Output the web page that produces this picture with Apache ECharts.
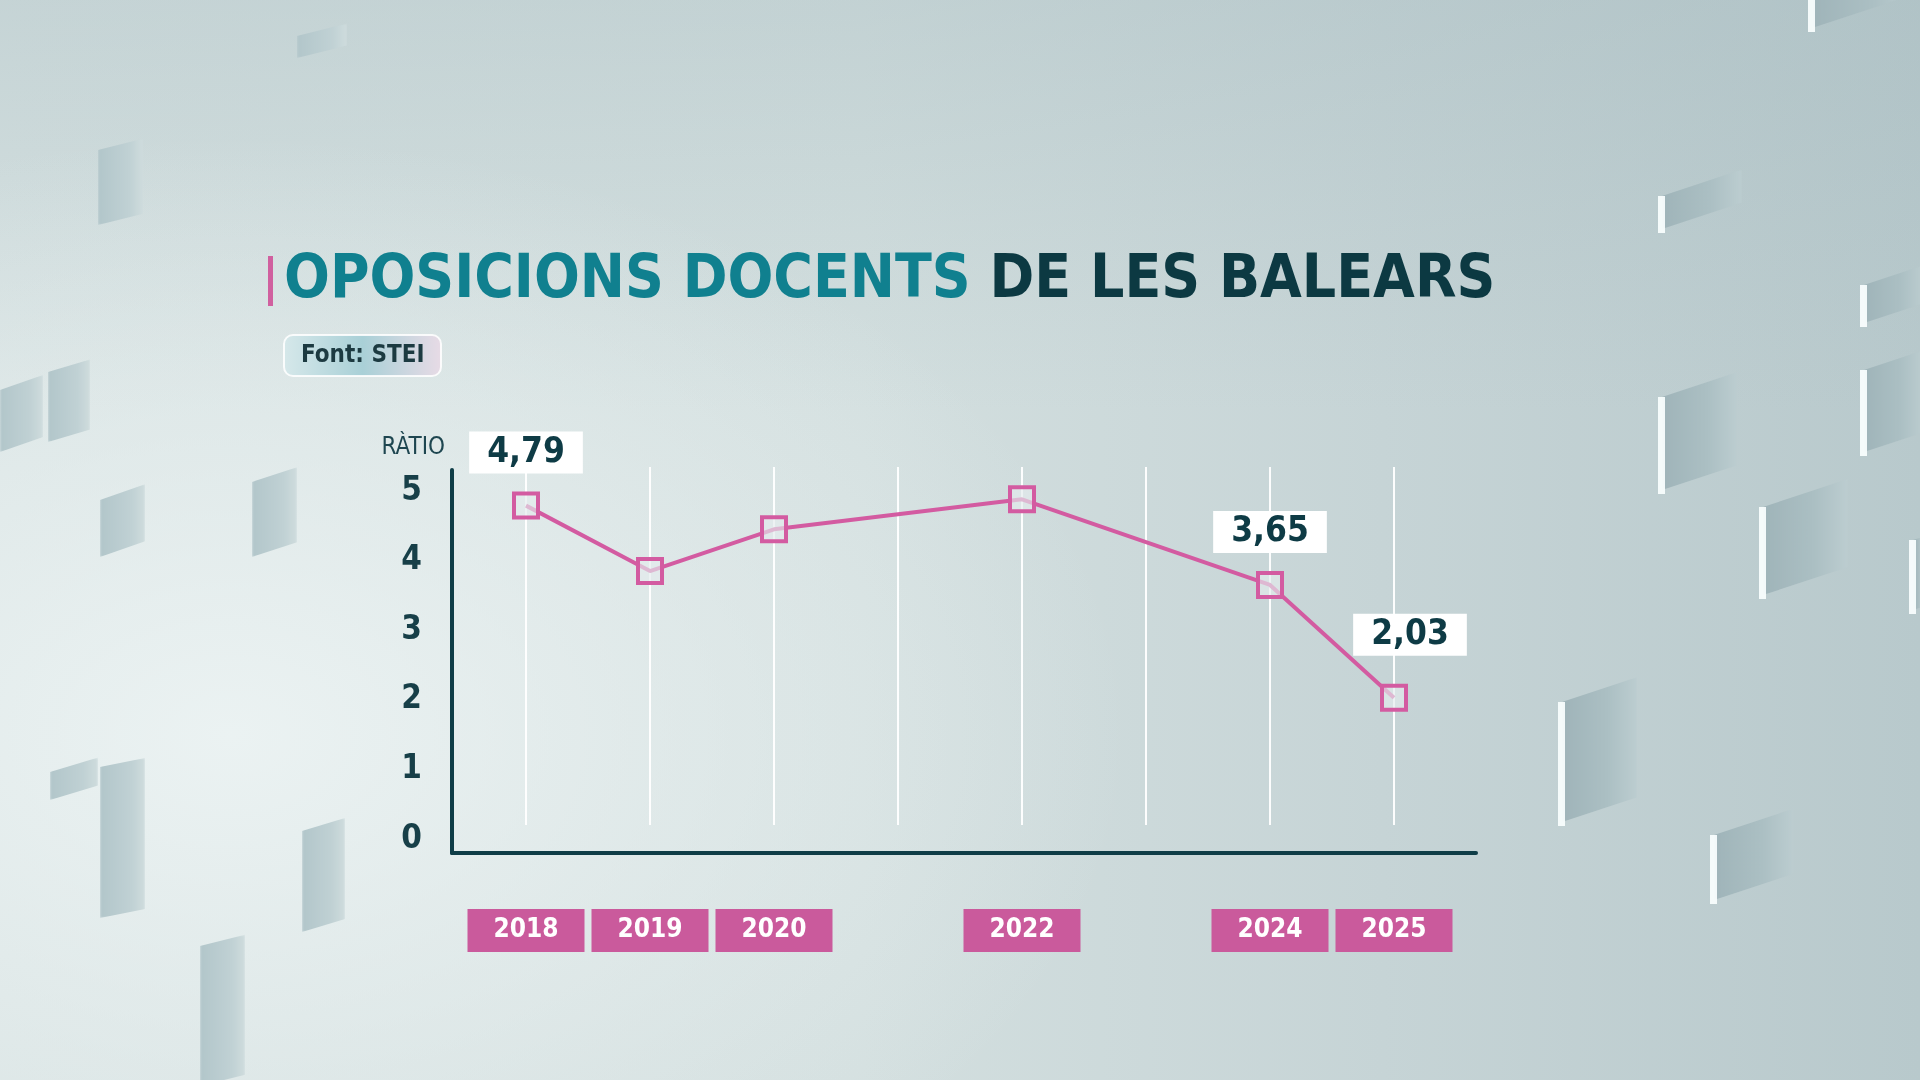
<!DOCTYPE html>
<html>
<head>
<meta charset="utf-8">
<script src="https://cdn.jsdelivr.net/npm/echarts@6/dist/echarts.min.js"></script>
<style>
html,body{margin:0;padding:0;width:1920px;height:1080px;overflow:hidden;}
#bg{position:absolute;left:0;top:0;width:1920px;height:1080px;overflow:hidden;
  background:
    radial-gradient(ellipse 900px 600px at 12% 68%, rgba(236,243,243,0.95) 0%, rgba(236,243,243,0) 100%),
    linear-gradient(180deg, rgba(160,182,187,0.32) 0%, rgba(160,182,187,0) 38%),
    linear-gradient(90deg, #d7e2e2 0%, #d3dfdf 45%, #c6d4d6 72%, #b8c9cc 100%);
}
.blk{position:absolute;filter:blur(0.8px);}
.strip{position:absolute;background:rgba(248,253,253,0.95);width:7px;}
#c{position:absolute;left:0;top:0;width:1920px;height:1080px;}
</style>
</head>
<body>
<div id="bg"></div>
<div id="c"></div>
<script>
// ---- data ----
const years = ['2018','2019','2020','2021','2022','2023','2024','2025'];
const ratio = [4.79, 3.85, 4.45, null, 4.88, null, 3.65, 2.03];
const labelledYears = ['2018','2024','2025'];
const shownYears = ['2018','2019','2020','2022','2024','2025'];
const yTicks = [0,1,2,3,4,5];
const titleMain = 'OPOSICIONS DOCENTS';
const titleRest = 'DE LES BALEARS';
const sourceText = 'Font: STEI';
const yName = 'RÀTIO';

// ---- decorative background panels (not data) ----
const decor = [
  // x, y, w, h, slope, strip
  [1662, 196, 80, 33, 0.33, 1], [1812, 0, 100, 28, 0.33, 1], [1864, 285, 60, 38, 0.33, 1],
  [1662, 397, 75, 93, 0.33, 1], [1864, 370, 60, 82, 0.33, 1], [1763, 507, 85, 88, 0.33, 1],
  [1913, 540, 10, 70, 0.33, 1], [1562, 702, 75, 120, 0.33, 1], [1714, 835, 80, 65, 0.33, 1],
  [98, 150, 45, 75, 0.25, 0], [297, 36, 50, 22, 0.25, 0],
  [0, 390, 43, 62, 0.35, 0], [48, 372, 42, 70, 0.3, 0],
  [100, 500, 45, 57, 0.35, 0], [252, 482, 45, 75, 0.33, 0],
  [100, 767, 45, 151, 0.2, 0], [50, 772, 48, 28, 0.3, 0], [302, 831, 43, 101, 0.3, 0],
  [200, 946, 45, 140, 0.25, 0]
];
const bgEl = document.getElementById('bg');
decor.forEach(function (d) {
  const x = d[0], y = d[1], w = d[2], h = d[3], s = d[4], strip = d[5];
  const rise = s * w;
  const el = document.createElement('div');
  el.className = 'blk';
  el.style.left = x + 'px';
  el.style.top = (y - rise) + 'px';
  el.style.width = w + 'px';
  el.style.height = (h + rise) + 'px';
  el.style.clipPath = 'polygon(0 ' + rise + 'px, ' + w + 'px 0, ' + w + 'px ' + h + 'px, 0 ' + (h + rise) + 'px)';
  el.style.background = strip
    ? 'linear-gradient(90deg, #9fb4b9 0%, #abbfc3 60%, #bccdd0 100%)'
    : 'linear-gradient(90deg, #b2c6ca 0%, #c0d1d4 70%, #cfdcdd 100%)';
  bgEl.appendChild(el);
  if (strip) {
    const st = document.createElement('div');
    st.className = 'strip';
    st.style.left = (x - 4) + 'px';
    st.style.top = y + 'px';
    st.style.height = (h + 4) + 'px';
    bgEl.appendChild(st);
  }
});

const FONT = "'DejaVu Sans Condensed', 'Liberation Sans Narrow', sans-serif";
const DARK = '#0f3d47';
const PINK = '#d35ba1';
const PINKBOX = '#ca5a9c';

const seriesData = ratio.map(function (v, i) {
  const item = { value: v };
  if (labelledYears.indexOf(years[i]) >= 0) {
    item.label = { show: true };
    if (years[i] === '2025') { item.label.offset = [16, 0]; item.label.distance = 28; }
  }
  return item;
});

const chart = echarts.init(document.getElementById('c'), null, { renderer: 'canvas' });
chart.setOption({
  backgroundColor: 'transparent',
  animation: false,
  title: [
    {
      left: 263, top: 246,
      text: '{bar| }{a|' + titleMain + '}{b| ' + titleRest + '}',
      textStyle: {
        fontFamily: FONT,
        rich: {
          bar: { backgroundColor: '#d0609f', width: 5, height: 50, padding: 0 },
          a: { fontFamily: FONT, fontSize: 60, fontWeight: 'bold', color: '#10808f', lineHeight: 60, padding: [0, 0, 0, 11] },
          b: { fontFamily: FONT, fontSize: 60, fontWeight: 'bold', color: '#0c3942', lineHeight: 60 }
        }
      }
    },
    {
      left: 284, top: 335,
      text: sourceText,
      padding: [8, 17, 8, 17],
      borderRadius: 9,
      borderWidth: 2,
      borderColor: 'rgba(255,255,255,0.85)',
      backgroundColor: {
        type: 'linear', x: 0, y: 0, x2: 1, y2: 0,
        colorStops: [
          { offset: 0, color: '#d6e8ea' },
          { offset: 0.5, color: '#a9d0d7' },
          { offset: 1, color: '#e8dbe6' }
        ]
      },
      textStyle: { fontFamily: FONT, fontSize: 24, fontWeight: 'bold', color: '#1c3a41', lineHeight: 25 }
    }
  ],
  grid: [
    { left: 452, top: 470, width: 1024, height: 383, containLabel: false },
    { left: 526, top: 467, width: 868, height: 358, containLabel: false },
    { left: 526, top: 491, width: 868, height: 348, containLabel: false }
  ],
  xAxis: [
    {
      gridIndex: 0, type: 'value', min: 0, max: 1,
      axisLine: { show: true, onZero: false, lineStyle: { color: DARK, width: 4 } },
      axisTick: { show: false }, axisLabel: { show: false }, splitLine: { show: false }
    },
    {
      gridIndex: 1, type: 'category', data: years, boundaryGap: false,
      axisLine: { show: false }, axisTick: { show: false }, axisLabel: { show: false },
      splitLine: { show: true, lineStyle: { color: 'rgba(255,255,255,0.95)', width: 2 } }
    },
    {
      gridIndex: 2, type: 'category', data: years, boundaryGap: false,
      axisLine: { show: false }, axisTick: { show: false }, splitLine: { show: false },
      axisLabel: {
        show: true, interval: 0, margin: 70,
        formatter: function (v) { return shownYears.indexOf(v) >= 0 ? '{b|' + v + '}' : ''; },
        rich: {
          b: {
            backgroundColor: PINKBOX, color: '#ffffff', fontFamily: FONT,
            fontSize: 26, fontWeight: 'bold', width: 117, height: 43, lineHeight: 43, align: 'center'
          }
        }
      }
    }
  ],
  yAxis: [
    {
      gridIndex: 0, type: 'value', min: 0, max: 1,
      axisLine: { show: true, onZero: false, lineStyle: { color: DARK, width: 4 } },
      axisTick: { show: false }, axisLabel: { show: false }, splitLine: { show: false },
      name: yName, nameLocation: 'end', nameGap: 22,
      nameTextStyle: { fontFamily: FONT, fontSize: 24, color: '#1e4650', align: 'right', verticalAlign: 'middle', padding: [0, 7, 0, 0] }
    },
    {
      gridIndex: 1, type: 'value', min: 0, max: 1, show: false
    },
    {
      gridIndex: 2, type: 'value', min: 0, max: 5, interval: 1,
      axisLine: { show: false }, axisTick: { show: false }, splitLine: { show: false },
      axisLabel: {
        show: true, margin: 104, fontFamily: FONT, fontSize: 33, fontWeight: 'bold', color: '#173f48',
        customValues: yTicks
      }
    }
  ],
  series: [
    {
      type: 'line', xAxisIndex: 2, yAxisIndex: 2,
      data: seriesData, connectNulls: true,
      symbol: 'rect', symbolSize: 24, showSymbol: true,
      lineStyle: { color: PINK, width: 4 },
      itemStyle: { color: 'rgba(228,235,237,0.65)', borderColor: PINK, borderWidth: 4 },
      label: {
        show: false, position: 'top', distance: 18,
        formatter: function (p) { return p.value.toFixed(2).replace('.', ','); },
        backgroundColor: '#ffffff', color: '#0e3b45', fontFamily: FONT,
        fontSize: 35, fontWeight: 'bold', lineHeight: 34, padding: [4, 18, 4, 18]
      },
      z: 5
    }
  ]
});
</script>
</body>
</html>
